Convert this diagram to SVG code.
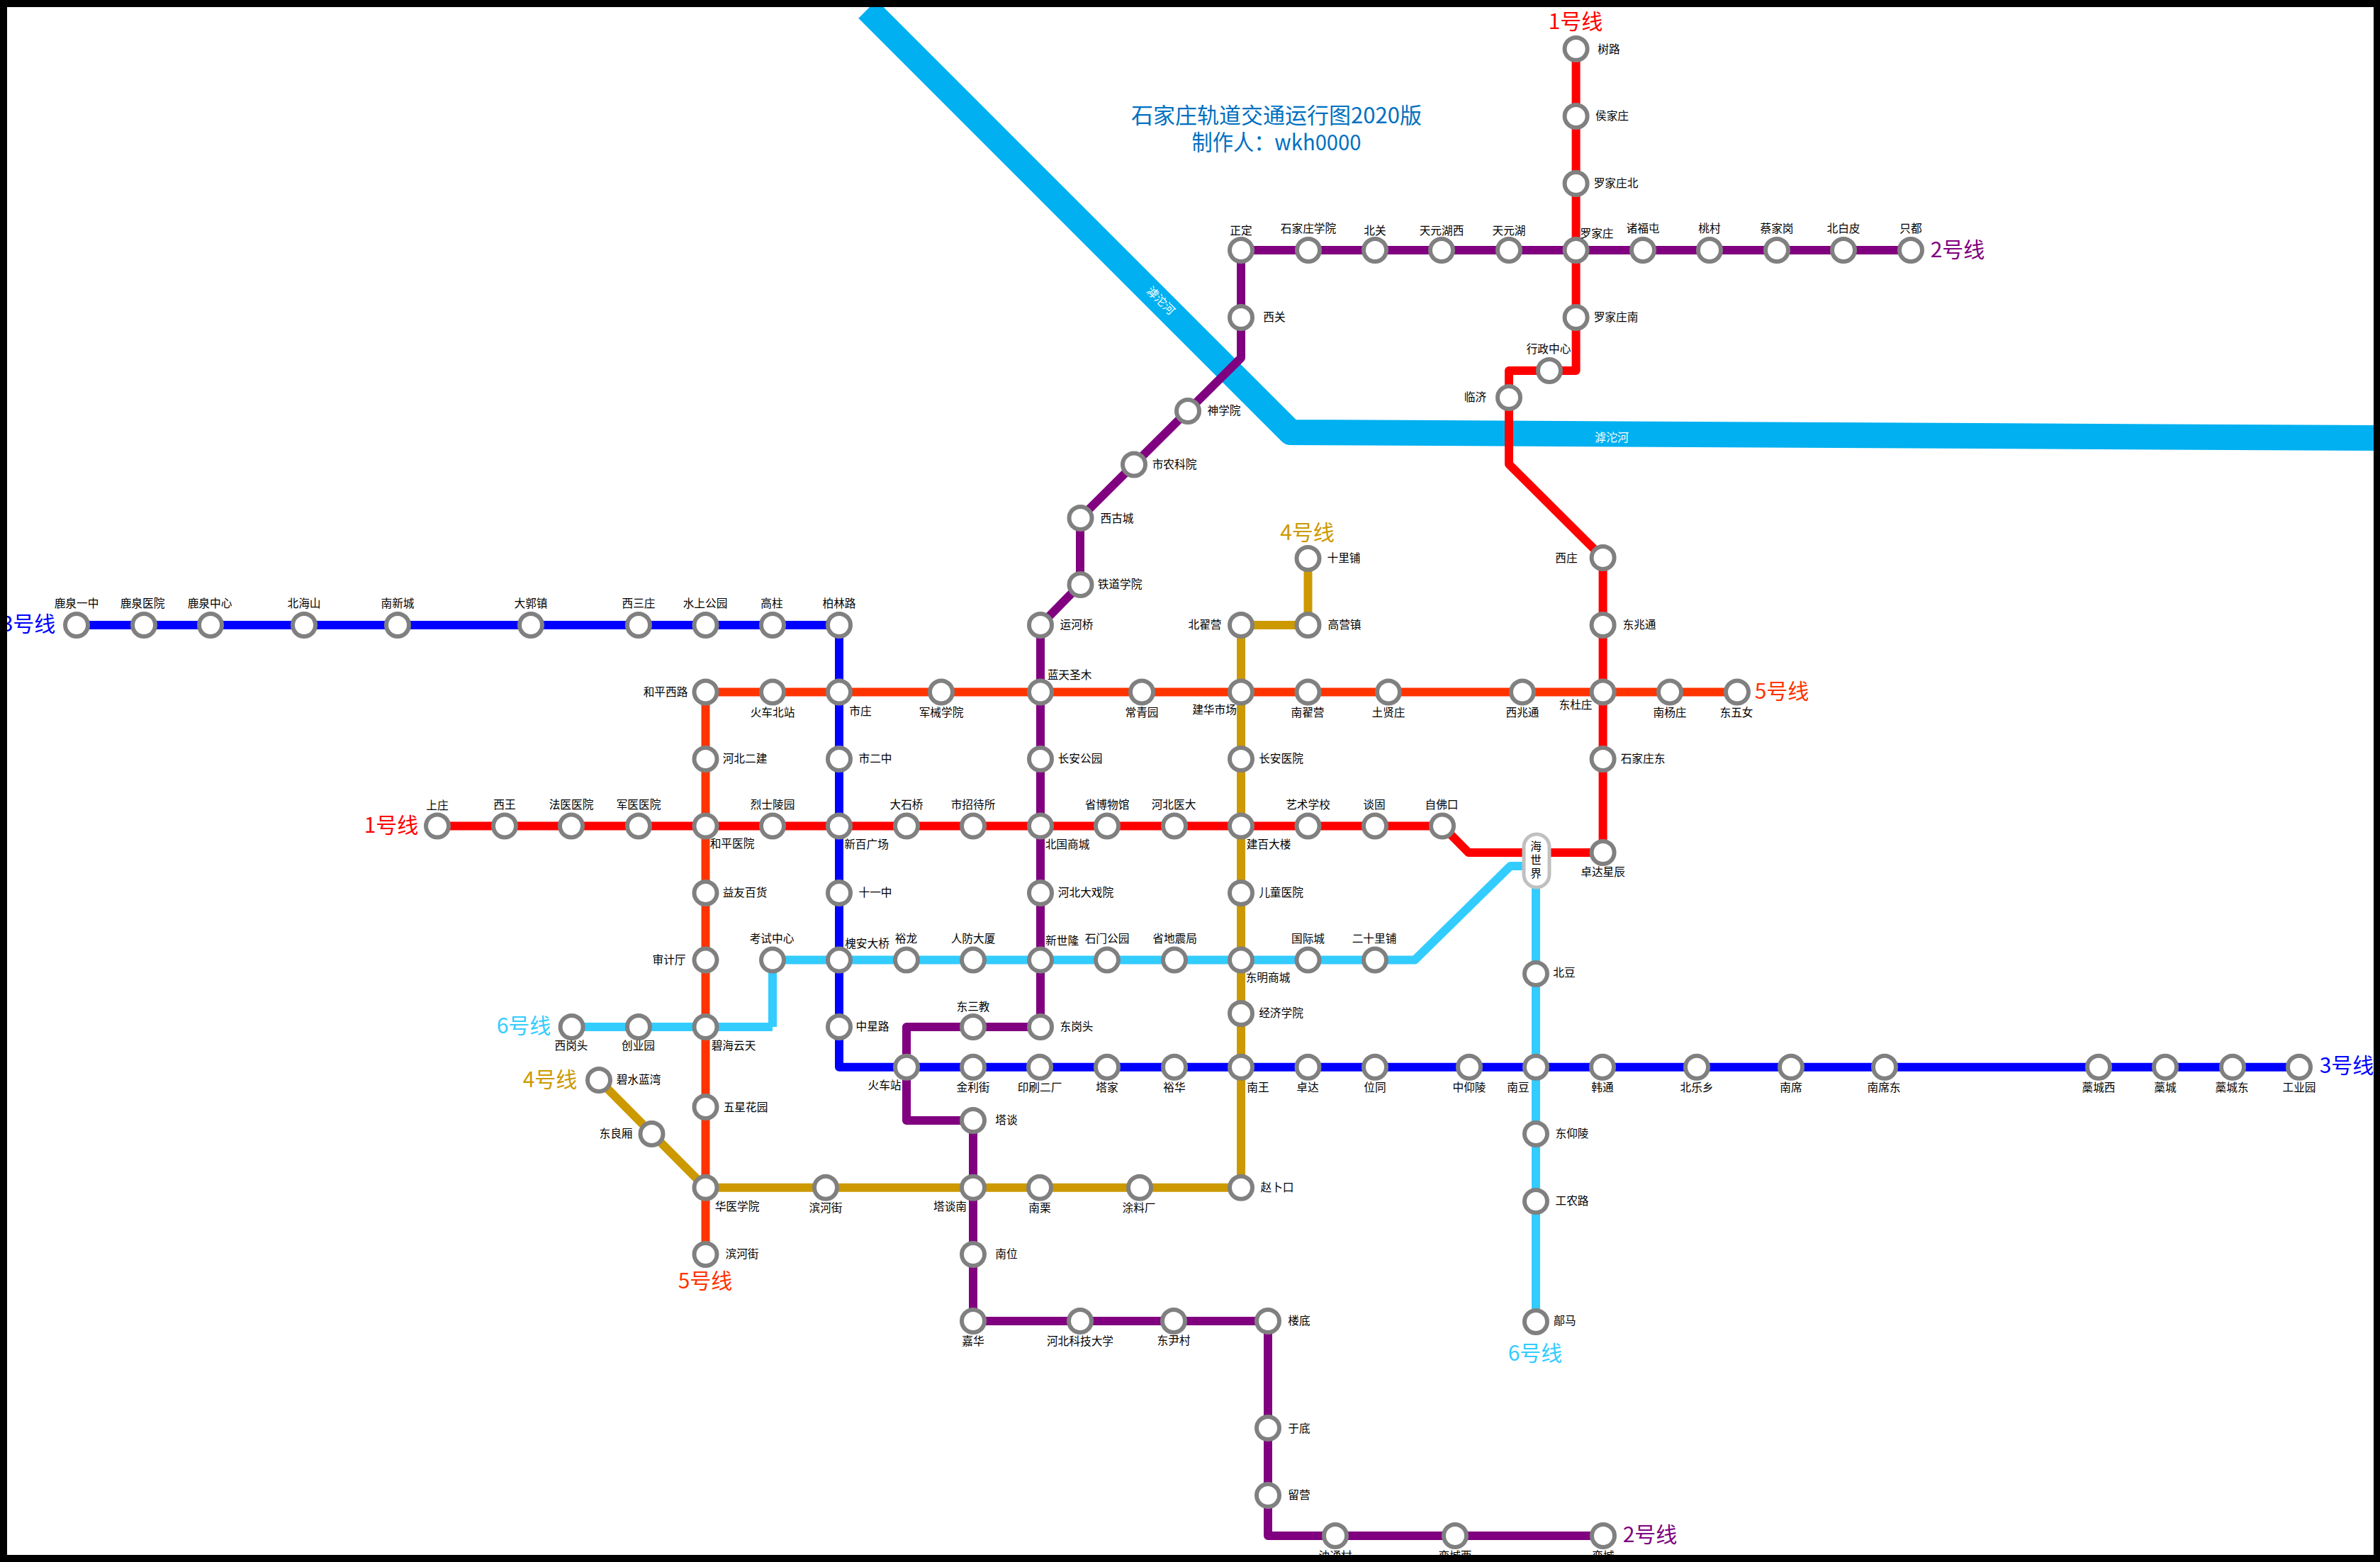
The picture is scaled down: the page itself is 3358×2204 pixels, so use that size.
<svg xmlns="http://www.w3.org/2000/svg" width="3358" height="2204" viewBox="0 0 3358 2204">
<style>
text{font-family:"Noto Sans CJK SC","Noto Sans",sans-serif}
.s{fill:#fff;stroke:#808080;stroke-width:6}
.l{font-size:15.7px;fill:#000;text-anchor:middle}
.n{font-size:30px;text-anchor:middle}
.t{font-size:31px;fill:#0070C0;text-anchor:middle}
.r{font-size:16px;fill:#fff;text-anchor:middle}
.c{fill:none;stroke-width:12;stroke-linejoin:round}
.l1{stroke:#FF0000}.l2{stroke:#800080}.l3{stroke:#0000FF}.l4{stroke:#CC9900}.l5{stroke:#FF3300}.l6{stroke:#33CCFF}
</style>
<rect width="3358" height="2204" fill="#fff"/>
<g id="river">
<path d="M1224 13L1821 610L3358 618" fill="none" stroke="#00B0F0" stroke-width="36" stroke-linejoin="round"/>
<text class="r" transform="translate(1638 424) rotate(45)" x="0" y="6">滹沱河</text>
<text class="r" x="2274" y="623">滹沱河</text>
</g>
<g id="title">
<text class="t"><tspan x="1801" y="174">石家庄轨道交通运行图2020版</tspan><tspan x="1801" y="212" textLength="239" lengthAdjust="spacingAndGlyphs">制作人：wkh0000</tspan></text>
</g>
<g id="connectors">
<path class="c l3" d="M108 882H1184V1505.7H3244"/>
<path class="c l5" d="M995.5 1770V976.5H2451"/>
<path class="c l4" d="M1845.5 788V882H1751V1675.7H995.5L845 1524"/>
<path class="c l6" d="M806.6 1449H1090"/>
<path class="c l6" d="M1090 1449V1354.6H1996L2131 1222H2167V1865"/>
<path class="c l2" d="M2696 353H1751V505L1524 731V825L1468 882V1449H1279V1581H1373V1864H1789V2167H2262"/>
<path class="c l1" d="M2223.6 69V523H2129V655L2261.6 787V1203H2072L2035 1165.5H617"/>
</g>
<g id="labels-lines">
<text class="n" x="2223" y="41" fill="#FF0000">1号线</text>
<text class="n" x="552" y="1175" fill="#FF0000">1号线</text>
<text class="n" x="2762" y="363" fill="#800080">2号线</text>
<text class="n" x="2328" y="2176" fill="#800080">2号线</text>
<text class="n" x="40" y="891" fill="#0000FF">3号线</text>
<text class="n" x="3311" y="1514" fill="#0000FF">3号线</text>
<text class="n" x="1844.5" y="762" fill="#CC9900">4号线</text>
<text class="n" x="776" y="1534" fill="#CC9900">4号线</text>
<text class="n" x="2514" y="986" fill="#FF3300">5号线</text>
<text class="n" x="995" y="1818" fill="#FF3300">5号线</text>
<text class="n" x="739" y="1458" fill="#33CCFF">6号线</text>
<text class="n" x="2166" y="1920" fill="#33CCFF">6号线</text>
</g>
<g id="n1"><circle class="s" r="16" cx="2223.6" cy="69"/><text class="l" x="2270" y="75">树路</text></g>
<g id="n2"><circle class="s" r="16" cx="2223.6" cy="164"/><text class="l" x="2274.5" y="169">侯家庄</text></g>
<g id="n3"><circle class="s" r="16" cx="2223.6" cy="259"/><text class="l" x="2280" y="264">罗家庄北</text></g>
<g id="n4"><circle class="s" r="16" cx="2223.6" cy="353"/><text class="l" x="2253" y="335">罗家庄</text></g>
<g id="n5"><circle class="s" r="16" cx="2223.6" cy="448"/><text class="l" x="2280" y="453">罗家庄南</text></g>
<g id="n6"><circle class="s" r="16" cx="2186" cy="523"/><text class="l" x="2185" y="498">行政中心</text></g>
<g id="n7"><circle class="s" r="16" cx="2129" cy="561"/><text class="l" x="2081.5" y="566">临济</text></g>
<g id="n8"><circle class="s" r="16" cx="2261.6" cy="787"/><text class="l" x="2210" y="793">西庄</text></g>
<g id="n9"><circle class="s" r="16" cx="2261.6" cy="882"/><text class="l" x="2313" y="887">东兆通</text></g>
<g id="n10"><circle class="s" r="16" cx="2261.6" cy="976.5"/><text class="l" x="2223" y="1000">东杜庄</text></g>
<g id="n11"><circle class="s" r="16" cx="2261.6" cy="1071"/><text class="l" x="2318" y="1076">石家庄东</text></g>
<g id="n12"><circle class="s" r="16" cx="2261.6" cy="1203"/><text class="l" x="2261.6" y="1236">卓达星辰</text></g>
<g id="n13"><circle class="s" r="16" cx="2035" cy="1165.5"/><text class="l" x="2034" y="1141">自佛口</text></g>
<g id="n14"><circle class="s" r="16" cx="1940" cy="1165.5"/><text class="l" x="1939" y="1141">谈固</text></g>
<g id="n15"><circle class="s" r="16" cx="1845.5" cy="1165.5"/><text class="l" x="1845.5" y="1141">艺术学校</text></g>
<g id="n16"><circle class="s" r="16" cx="1751" cy="1165.5"/><text class="l" x="1790" y="1197">建百大楼</text></g>
<g id="n17"><circle class="s" r="16" cx="1657" cy="1165.5"/><text class="l" x="1656" y="1141">河北医大</text></g>
<g id="n18"><circle class="s" r="16" cx="1562" cy="1165.5"/><text class="l" x="1562" y="1141">省博物馆</text></g>
<g id="n19"><circle class="s" r="16" cx="1468" cy="1165.5"/><text class="l" x="1506" y="1197">北国商城</text></g>
<g id="n20"><circle class="s" r="16" cx="1373" cy="1165.5"/><text class="l" x="1373" y="1141">市招待所</text></g>
<g id="n21"><circle class="s" r="16" cx="1279" cy="1165.5"/><text class="l" x="1279" y="1141">大石桥</text></g>
<g id="n22"><circle class="s" r="16" cx="1184" cy="1165.5"/><text class="l" x="1222.5" y="1197">新百广场</text></g>
<g id="n23"><circle class="s" r="16" cx="1090" cy="1165.5"/><text class="l" x="1090" y="1141">烈士陵园</text></g>
<g id="n24"><circle class="s" r="16" cx="995.5" cy="1165.5"/><text class="l" x="1033" y="1196">和平医院</text></g>
<g id="n25"><circle class="s" r="16" cx="901" cy="1165.5"/><text class="l" x="901" y="1141">军医医院</text></g>
<g id="n26"><circle class="s" r="16" cx="806" cy="1165.5"/><text class="l" x="806" y="1141">法医医院</text></g>
<g id="n27"><circle class="s" r="16" cx="712" cy="1165.5"/><text class="l" x="712" y="1141">西王</text></g>
<g id="n28"><circle class="s" r="16" cx="617" cy="1165.5"/><text class="l" x="617" y="1142">上庄</text></g>
<g id="n29"><circle class="s" r="16" cx="2696" cy="353"/><text class="l" x="2696" y="328">只都</text></g>
<g id="n30"><circle class="s" r="16" cx="2601" cy="353"/><text class="l" x="2601" y="328">北白皮</text></g>
<g id="n31"><circle class="s" r="16" cx="2507" cy="353"/><text class="l" x="2507" y="328">蔡家岗</text></g>
<g id="n32"><circle class="s" r="16" cx="2412" cy="353"/><text class="l" x="2412" y="328">桃村</text></g>
<g id="n33"><circle class="s" r="16" cx="2318" cy="353"/><text class="l" x="2318" y="328">诸福屯</text></g>
<g id="n34"><circle class="s" r="16" cx="2129" cy="353"/><text class="l" x="2129" y="331">天元湖</text></g>
<g id="n35"><circle class="s" r="16" cx="2034" cy="353"/><text class="l" x="2034" y="331">天元湖西</text></g>
<g id="n36"><circle class="s" r="16" cx="1940" cy="353"/><text class="l" x="1940" y="331">北关</text></g>
<g id="n37"><circle class="s" r="16" cx="1846" cy="353"/><text class="l" x="1846" y="328">石家庄学院</text></g>
<g id="n38"><circle class="s" r="16" cx="1751" cy="353"/><text class="l" x="1751" y="331">正定</text></g>
<g id="n39"><circle class="s" r="16" cx="1751" cy="448"/><text class="l" x="1798" y="453">西关</text></g>
<g id="n40"><circle class="s" r="16" cx="1676" cy="580"/><text class="l" x="1727" y="585">神学院</text></g>
<g id="n41"><circle class="s" r="16" cx="1600" cy="655.5"/><text class="l" x="1657" y="661">市农科院</text></g>
<g id="n42"><circle class="s" r="16" cx="1524.5" cy="731"/><text class="l" x="1576" y="737">西古城</text></g>
<g id="n43"><circle class="s" r="16" cx="1524.5" cy="825"/><text class="l" x="1580" y="830">铁道学院</text></g>
<g id="n44"><circle class="s" r="16" cx="1468" cy="882"/><text class="l" x="1519" y="887">运河桥</text></g>
<g id="n45"><circle class="s" r="16" cx="1468" cy="976.5"/><text class="l" x="1509" y="958">蓝天圣木</text></g>
<g id="n46"><circle class="s" r="16" cx="1468" cy="1071"/><text class="l" x="1524" y="1076">长安公园</text></g>
<g id="n47"><circle class="s" r="16" cx="1468" cy="1260"/><text class="l" x="1532" y="1265">河北大戏院</text></g>
<g id="n48"><circle class="s" r="16" cx="1468" cy="1354.6"/><text class="l" x="1498.6" y="1333">新世隆</text></g>
<g id="n49"><circle class="s" r="16" cx="1468" cy="1449"/><text class="l" x="1519" y="1454">东岗头</text></g>
<g id="n50"><circle class="s" r="16" cx="1373" cy="1449"/><text class="l" x="1373" y="1426">东三教</text></g>
<g id="n51"><circle class="s" r="16" cx="1279" cy="1505.7"/><text class="l" x="1248" y="1537">火车站</text></g>
<g id="n52"><circle class="s" r="16" cx="1373" cy="1581"/><text class="l" x="1420" y="1586">塔谈</text></g>
<g id="n53"><circle class="s" r="16" cx="1373" cy="1675.7"/><text class="l" x="1340.5" y="1708">塔谈南</text></g>
<g id="n54"><circle class="s" r="16" cx="1373" cy="1770"/><text class="l" x="1420" y="1775">南位</text></g>
<g id="n55"><circle class="s" r="16" cx="1373" cy="1864"/><text class="l" x="1373" y="1898">嘉华</text></g>
<g id="n56"><circle class="s" r="16" cx="1524" cy="1864"/><text class="l" x="1524" y="1898">河北科技大学</text></g>
<g id="n57"><circle class="s" r="16" cx="1656" cy="1864"/><text class="l" x="1656" y="1897">东尹村</text></g>
<g id="n58"><circle class="s" r="16" cx="1789" cy="1864"/><text class="l" x="1833" y="1869">楼底</text></g>
<g id="n59"><circle class="s" r="16" cx="1789" cy="2015"/><text class="l" x="1833" y="2021">于底</text></g>
<g id="n60"><circle class="s" r="16" cx="1789" cy="2110"/><text class="l" x="1833" y="2115">留营</text></g>
<g id="n61"><circle class="s" r="16" cx="1884" cy="2167"/><text class="l" x="1884" y="2201">油通村</text></g>
<g id="n62"><circle class="s" r="16" cx="2053" cy="2167"/><text class="l" x="2053" y="2201">栾城西</text></g>
<g id="n63"><circle class="s" r="16" cx="2262" cy="2167"/><text class="l" x="2262" y="2201">栾城</text></g>
<g id="n64"><circle class="s" r="16" cx="108" cy="882"/><text class="l" x="108" y="857">鹿泉一中</text></g>
<g id="n65"><circle class="s" r="16" cx="203" cy="882"/><text class="l" x="201" y="857">鹿泉医院</text></g>
<g id="n66"><circle class="s" r="16" cx="297" cy="882"/><text class="l" x="296" y="857">鹿泉中心</text></g>
<g id="n67"><circle class="s" r="16" cx="429" cy="882"/><text class="l" x="429" y="857">北海山</text></g>
<g id="n68"><circle class="s" r="16" cx="561" cy="882"/><text class="l" x="561" y="857">南新城</text></g>
<g id="n69"><circle class="s" r="16" cx="749" cy="882"/><text class="l" x="749" y="857">大郭镇</text></g>
<g id="n70"><circle class="s" r="16" cx="901" cy="882"/><text class="l" x="901" y="857">西三庄</text></g>
<g id="n71"><circle class="s" r="16" cx="995.5" cy="882"/><text class="l" x="995" y="857">水上公园</text></g>
<g id="n72"><circle class="s" r="16" cx="1090" cy="882"/><text class="l" x="1089" y="857">高柱</text></g>
<g id="n73"><circle class="s" r="16" cx="1184" cy="882"/><text class="l" x="1184" y="857">柏林路</text></g>
<g id="n74"><circle class="s" r="16" cx="1184" cy="976.5"/><text class="l" x="1214" y="1009">市庄</text></g>
<g id="n75"><circle class="s" r="16" cx="1184" cy="1071"/><text class="l" x="1235" y="1076">市二中</text></g>
<g id="n76"><circle class="s" r="16" cx="1184" cy="1260"/><text class="l" x="1235" y="1265">十一中</text></g>
<g id="n77"><circle class="s" r="16" cx="1184" cy="1354.6"/><text class="l" x="1223.5" y="1337">槐安大桥</text></g>
<g id="n78"><circle class="s" r="16" cx="1184" cy="1449"/><text class="l" x="1231" y="1454">中星路</text></g>
<g id="n79"><circle class="s" r="16" cx="1373" cy="1505.7"/><text class="l" x="1373" y="1540">金利街</text></g>
<g id="n80"><circle class="s" r="16" cx="1467" cy="1505.7"/><text class="l" x="1467" y="1540">印刷二厂</text></g>
<g id="n81"><circle class="s" r="16" cx="1562" cy="1505.7"/><text class="l" x="1562" y="1540">塔家</text></g>
<g id="n82"><circle class="s" r="16" cx="1657" cy="1505.7"/><text class="l" x="1657" y="1540">裕华</text></g>
<g id="n83"><circle class="s" r="16" cx="1751" cy="1505.7"/><text class="l" x="1775" y="1540">南王</text></g>
<g id="n84"><circle class="s" r="16" cx="1845.5" cy="1505.7"/><text class="l" x="1845" y="1540">卓达</text></g>
<g id="n85"><circle class="s" r="16" cx="1940" cy="1505.7"/><text class="l" x="1940" y="1540">位同</text></g>
<g id="n86"><circle class="s" r="16" cx="2073" cy="1505.7"/><text class="l" x="2073" y="1540">中仰陵</text></g>
<g id="n87"><circle class="s" r="16" cx="2167" cy="1505.7"/><text class="l" x="2142" y="1540">南豆</text></g>
<g id="n88"><circle class="s" r="16" cx="2261" cy="1505.7"/><text class="l" x="2261" y="1540">韩通</text></g>
<g id="n89"><circle class="s" r="16" cx="2394" cy="1505.7"/><text class="l" x="2394" y="1540">北乐乡</text></g>
<g id="n90"><circle class="s" r="16" cx="2527" cy="1505.7"/><text class="l" x="2527" y="1540">南席</text></g>
<g id="n91"><circle class="s" r="16" cx="2659" cy="1505.7"/><text class="l" x="2658" y="1540">南席东</text></g>
<g id="n92"><circle class="s" r="16" cx="2961" cy="1505.7"/><text class="l" x="2961" y="1540">藁城西</text></g>
<g id="n93"><circle class="s" r="16" cx="3055" cy="1505.7"/><text class="l" x="3055" y="1540">藁城</text></g>
<g id="n94"><circle class="s" r="16" cx="3150" cy="1505.7"/><text class="l" x="3149" y="1540">藁城东</text></g>
<g id="n95"><circle class="s" r="16" cx="3244" cy="1505.7"/><text class="l" x="3244" y="1540">工业园</text></g>
<g id="n96"><circle class="s" r="16" cx="1845.5" cy="788"/><text class="l" x="1896" y="793">十里铺</text></g>
<g id="n97"><circle class="s" r="16" cx="1845.5" cy="882"/><text class="l" x="1897" y="887">高营镇</text></g>
<g id="n98"><circle class="s" r="16" cx="1751" cy="882"/><text class="l" x="1700" y="887">北翟营</text></g>
<g id="n99"><circle class="s" r="16" cx="1751" cy="976.5"/><text class="l" x="1713.5" y="1007">建华市场</text></g>
<g id="n100"><circle class="s" r="16" cx="1751" cy="1071"/><text class="l" x="1807.5" y="1076">长安医院</text></g>
<g id="n101"><circle class="s" r="16" cx="1751" cy="1260"/><text class="l" x="1807.5" y="1265">儿童医院</text></g>
<g id="n102"><circle class="s" r="16" cx="1751" cy="1354.6"/><text class="l" x="1789" y="1385">东明商城</text></g>
<g id="n103"><circle class="s" r="16" cx="1751" cy="1430"/><text class="l" x="1807.5" y="1435">经济学院</text></g>
<g id="n104"><circle class="s" r="16" cx="1751" cy="1675.7"/><text class="l" x="1802" y="1681">赵卜口</text></g>
<g id="n105"><circle class="s" r="16" cx="1608" cy="1675.7"/><text class="l" x="1607" y="1710">涂料厂</text></g>
<g id="n106"><circle class="s" r="16" cx="1467" cy="1675.7"/><text class="l" x="1467" y="1710">南栗</text></g>
<g id="n107"><circle class="s" r="16" cx="1165" cy="1675.7"/><text class="l" x="1165" y="1710">滨河街</text></g>
<g id="n108"><circle class="s" r="16" cx="995.5" cy="1675.7"/><text class="l" x="1040" y="1708">华医学院</text></g>
<g id="n109"><circle class="s" r="16" cx="919.5" cy="1600"/><text class="l" x="869" y="1605">东良厢</text></g>
<g id="n110"><circle class="s" r="16" cx="845" cy="1524"/><text class="l" x="901" y="1529">碧水蓝湾</text></g>
<g id="n111"><circle class="s" r="16" cx="995.5" cy="1770"/><text class="l" x="1047" y="1775">滨河街</text></g>
<g id="n112"><circle class="s" r="16" cx="995.5" cy="1562"/><text class="l" x="1052" y="1568">五星花园</text></g>
<g id="n113"><circle class="s" r="16" cx="995.5" cy="1449"/><text class="l" x="1035" y="1481">碧海云天</text></g>
<g id="n114"><circle class="s" r="16" cx="995.5" cy="1354.6"/><text class="l" x="944" y="1360">审计厅</text></g>
<g id="n115"><circle class="s" r="16" cx="995.5" cy="1260"/><text class="l" x="1051" y="1265">益友百货</text></g>
<g id="n116"><circle class="s" r="16" cx="995.5" cy="1071"/><text class="l" x="1051" y="1076">河北二建</text></g>
<g id="n117"><circle class="s" r="16" cx="995.5" cy="976.5"/><text class="l" x="939" y="982">和平西路</text></g>
<g id="n118"><circle class="s" r="16" cx="1090" cy="976.5"/><text class="l" x="1090" y="1011">火车北站</text></g>
<g id="n119"><circle class="s" r="16" cx="1328" cy="976.5"/><text class="l" x="1328" y="1011">军械学院</text></g>
<g id="n120"><circle class="s" r="16" cx="1611" cy="976.5"/><text class="l" x="1611" y="1011">常青园</text></g>
<g id="n121"><circle class="s" r="16" cx="1845.5" cy="976.5"/><text class="l" x="1845" y="1011">南翟营</text></g>
<g id="n122"><circle class="s" r="16" cx="1959" cy="976.5"/><text class="l" x="1959" y="1011">土贤庄</text></g>
<g id="n123"><circle class="s" r="16" cx="2148" cy="976.5"/><text class="l" x="2148" y="1011">西兆通</text></g>
<g id="n124"><circle class="s" r="16" cx="2356" cy="976.5"/><text class="l" x="2356" y="1011">南杨庄</text></g>
<g id="n125"><circle class="s" r="16" cx="2451" cy="976.5"/><text class="l" x="2450" y="1011">东五女</text></g>
<g id="n126"><circle class="s" r="16" cx="806.6" cy="1449"/><text class="l" x="806" y="1481">西岗头</text></g>
<g id="n127"><circle class="s" r="16" cx="901" cy="1449"/><text class="l" x="900.5" y="1481">创业园</text></g>
<g id="n128"><circle class="s" r="16" cx="1090" cy="1354.6"/><text class="l" x="1089" y="1330">考试中心</text></g>
<g id="n129"><circle class="s" r="16" cx="1279" cy="1354.6"/><text class="l" x="1278.5" y="1330">裕龙</text></g>
<g id="n130"><circle class="s" r="16" cx="1373" cy="1354.6"/><text class="l" x="1373" y="1330">人防大厦</text></g>
<g id="n131"><circle class="s" r="16" cx="1562" cy="1354.6"/><text class="l" x="1562" y="1330">石门公园</text></g>
<g id="n132"><circle class="s" r="16" cx="1657" cy="1354.6"/><text class="l" x="1657.6" y="1330">省地震局</text></g>
<g id="n133"><circle class="s" r="16" cx="1845.5" cy="1354.6"/><text class="l" x="1845.5" y="1330">国际城</text></g>
<g id="n134"><circle class="s" r="16" cx="1940" cy="1354.6"/><text class="l" x="1939" y="1330">二十里铺</text></g>
<g id="n135"><rect x="2150" y="1177" width="36" height="75" rx="18" fill="#fff" stroke="#C0C0C0" stroke-width="5"/><text class="l" x="2167" y="1200">海</text><text class="l" x="2167" y="1219">世</text><text class="l" x="2167" y="1238">界</text></g>
<g id="n136"><circle class="s" r="16" cx="2167" cy="1374"/><text class="l" x="2207" y="1378">北豆</text></g>
<g id="n137"><circle class="s" r="16" cx="2167" cy="1600"/><text class="l" x="2218" y="1605">东仰陵</text></g>
<g id="n138"><circle class="s" r="16" cx="2167" cy="1695"/><text class="l" x="2218" y="1700">工农路</text></g>
<g id="n139"><circle class="s" r="16" cx="2167" cy="1865"/><text class="l" x="2208" y="1869">鄗马</text></g>
<rect id="frame" x="5" y="5" width="3349" height="2194" fill="none" stroke="#000" stroke-width="10"/>
</svg>
